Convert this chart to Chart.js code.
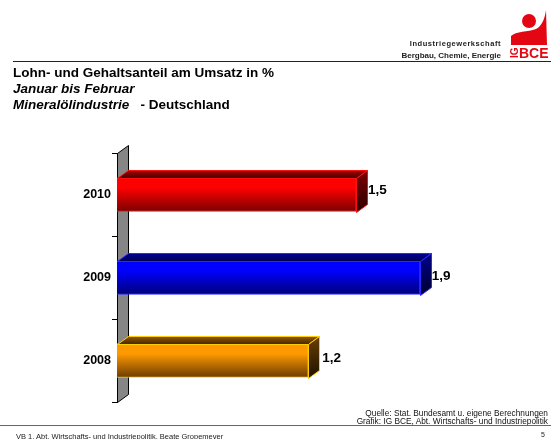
<!DOCTYPE html>
<html lang="de">
<head>
<meta charset="utf-8">
<title>Lohn- und Gehaltsanteil am Umsatz</title>
<script src="https://cdn.jsdelivr.net/npm/chart.js@4"></script>
<style>
  html, body { margin: 0; padding: 0; background: #fff; overflow: hidden; }
  #page { position: relative; width: 551px; height: 439px; overflow: hidden; font-family: "Liberation Sans", Arial, sans-serif; color: #000; }
  #page canvas { position: absolute; left: 0; top: 0; }
  .t { position: absolute; white-space: nowrap; line-height: 1; }
  .rule { position: absolute; }
  .head { font-size: 13.5px; font-weight: bold; left: 13px; }
  .src { font-size: 8.3px; right: 3px; color: #111; }
  svg { position: absolute; left: 505px; top: 5px; }
</style>
</head>
<body>
<div id="page">
  <canvas id="chart" width="551" height="439"></canvas>

  <div class="t" style="right:50px;top:40px;font-size:7.5px;font-weight:bold;letter-spacing:.55px;color:#222">Industriegewerkschaft</div>
  <div class="t" style="right:50px;top:52px;font-size:8px;font-weight:bold;color:#222">Bergbau, Chemie, Energie</div>
  <svg width="46" height="56" viewBox="505 5 46 56">
    <circle cx="529" cy="21" r="7" fill="#e30613"/>
    <path d="M511 45 L511 36 C516 31 528 32 536 29 C542 26 545 18 546 10 L547 45 Z" fill="#e30613"/>
    <text x="519" y="58" font-family="Liberation Sans" font-weight="bold" font-size="14" fill="#e30613">BCE</text>
    <text transform="translate(518,58) rotate(-90)" font-family="Liberation Sans" font-weight="bold" font-size="10" fill="#e30613">IG</text>
  </svg>
  <div class="rule" style="left:13px;top:61px;width:538px;height:1px;background:#222"></div>

  <div class="t head" style="top:66px">Lohn- und Gehaltsanteil am Umsatz in %</div>
  <div class="t head" style="top:82px;font-style:italic">Januar bis Februar</div>
  <div class="t head" style="top:98px"><i>Mineralölindustrie</i>&nbsp;&nbsp; - Deutschland</div>

  <div class="t src" style="top:409px">Quelle: Stat. Bundesamt u. eigene Berechnungen</div>
  <div class="t src" style="top:417px">Grafik: IG BCE, Abt. Wirtschafts- und Industriepolitik</div>
  <div class="rule" style="left:0;top:425px;width:551px;height:1px;background:#666"></div>
  <div class="t" style="left:16px;top:433px;font-size:7.5px;color:#222">VB 1, Abt. Wirtschafts- und Industriepolitik, Beate Gropemeyer</div>
  <div class="t" style="right:6px;top:431px;font-size:7px;color:#222">5</div>
</div>

<script>
const years = ['2010', '2009', '2008'];
const shares = [1.5, 1.9, 1.2];
const valueLabels = ['1,5', '1,9', '1,2'];

const barHeight = 34;
const depthX = 11, depthY = 8;
// colours per bar: front top, front bottom, border, top face back/front, side face top/bottom
const barColors = [
  { hi: '#ff0000', lo: '#7a0000', edge: '#ff1010', topA: '#b00000', topB: '#500000', sideA: '#800000', sideB: '#2a0000' },
  { hi: '#0000ff', lo: '#000078', edge: '#2a2aff', topA: '#0000a8', topB: '#000050', sideA: '#000090', sideB: '#000030' },
  { hi: '#ff9900', lo: '#6b3c00', edge: '#ffcc00', topA: '#a06000', topB: '#4a2c00', sideA: '#6b4000', sideB: '#1f1200' }
];
const labelNudge = [[12, -4], [12, -1], [14, -2]];

function frontGradient(c) {
  const chart = c.chart;
  const col = barColors[c.dataIndex];
  const mid = chart.scales.y ? chart.scales.y.getPixelForValue(c.dataIndex) : NaN;
  // scale has no size yet on the first pass
  if (!Number.isFinite(mid)) return col.hi;
  const g = chart.ctx.createLinearGradient(0, mid - barHeight / 2, 0, mid + barHeight / 2);
  g.addColorStop(0, col.hi);
  g.addColorStop(0.3, col.hi);
  g.addColorStop(1, col.lo);
  return g;
}

function face(ctx, pts, fill, edge) {
  ctx.beginPath();
  // snap to the pixel grid so the 1px edges stay bright
  pts.forEach((p, i) => {
    const x = Math.round(p[0]) + 0.5, y = Math.round(p[1]) + 0.5;
    if (i) ctx.lineTo(x, y); else ctx.moveTo(x, y);
  });
  ctx.closePath();
  ctx.fillStyle = fill;
  ctx.fill();
  ctx.strokeStyle = edge;
  ctx.stroke();
}

const box3d = {
  id: 'box3d',
  beforeDatasetsDraw(chart) {
    // grey back wall behind the bars
    const { ctx, chartArea: a } = chart;
    ctx.save();
    ctx.lineWidth = 1;
    face(ctx, [[a.left, a.top], [a.left + depthX, a.top - depthY], [a.left + depthX, a.bottom - depthY], [a.left, a.bottom]], '#868686', '#000');
    ctx.restore();
  },
  afterDatasetsDraw(chart) {
    const { ctx } = chart;
    ctx.save();
    ctx.lineWidth = 1;
    chart.getDatasetMeta(0).data.forEach((bar, i) => {
      const col = barColors[i];
      const top = bar.y - barHeight / 2, bot = bar.y + barHeight / 2;
      const l = bar.base, r = bar.x;

      let g = ctx.createLinearGradient(0, top - depthY, 0, top);
      g.addColorStop(0, col.topA);
      g.addColorStop(1, col.topB);
      face(ctx, [[l, top], [l + depthX, top - depthY], [r + depthX, top - depthY], [r, top]], g, col.edge);

      g = ctx.createLinearGradient(0, top - depthY, 0, bot);
      g.addColorStop(0, col.sideA);
      g.addColorStop(1, col.sideB);
      face(ctx, [[r, top], [r + depthX, top - depthY], [r + depthX, bot - depthY], [r, bot]], g, col.edge);

      ctx.fillStyle = '#000';
      ctx.font = 'bold 13.5px "Liberation Sans", Arial, sans-serif';
      ctx.textAlign = 'left';
      ctx.textBaseline = 'middle';
      ctx.fillText(valueLabels[i], r + labelNudge[i][0], bar.y + labelNudge[i][1]);
    });
    ctx.restore();
  }
};

new Chart(document.getElementById('chart'), {
  type: 'bar',
  data: {
    labels: years,
    datasets: [{
      data: shares,
      barThickness: barHeight,
      backgroundColor: frontGradient,
      borderColor: barColors.map(c => c.edge),
      borderWidth: 1
    }]
  },
  options: {
    indexAxis: 'y',
    responsive: false,
    animation: false,
    layout: { padding: { top: 153, bottom: 37, right: 35.5, left: 0 } },
    plugins: { legend: { display: false }, tooltip: { enabled: false }, title: { display: false } },
    scales: {
      x: { display: false, min: 0, max: 2.5 },
      y: {
        afterFit: s => { s.width = 117; },
        grid: { drawOnChartArea: false, color: '#000', tickLength: 5, offset: true },
        border: { color: '#000', width: 1 },
        ticks: { color: '#000', padding: 1, font: { family: '"Liberation Sans", Arial, sans-serif', size: 12.5, weight: 'bold' } }
      }
    }
  },
  plugins: [box3d]
});
</script>
</body>
</html>
